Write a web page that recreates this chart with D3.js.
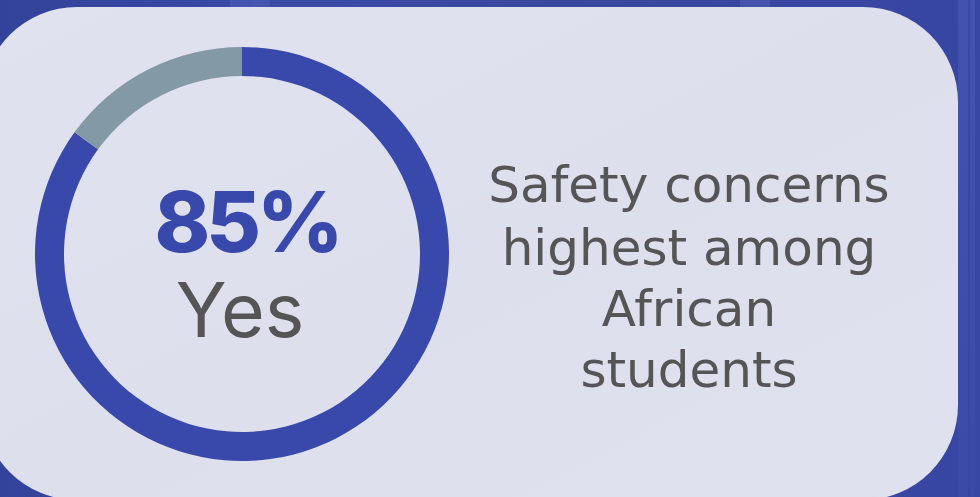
<!DOCTYPE html>
<html>
<head>
<meta charset="utf-8">
<script src="https://cdn.jsdelivr.net/npm/d3@7"></script>
<style>
  html, body { margin: 0; padding: 0; background: #36449c; }
  svg { display: block; }
</style>
</head>
<body>
<svg id="chart" width="980" height="497"></svg>
<script>
// Survey answer shares (percent)
const answers = ["Yes", "No"];
const shares = [85, 15];
const answerColors = ["#3949ab", "#8499a6"];
const captionLines = ["Safety concerns", "highest among", "African", "students"];

const W = 980, H = 497;
const svg = d3.select("#chart");

// Backdrop: deep blue with soft lighter streaks
const defs = svg.append("defs");
const bg = defs.append("linearGradient").attr("id", "bgGrad")
  .attr("x1", "0%").attr("x2", "100%").attr("y1", "0%").attr("y2", "0%");
bg.append("stop").attr("offset", "0%").attr("stop-color", "#33429a");
bg.append("stop").attr("offset", "30%").attr("stop-color", "#3a4aa6");
bg.append("stop").attr("offset", "60%").attr("stop-color", "#3b479e");
bg.append("stop").attr("offset", "100%").attr("stop-color", "#3846a4");
svg.append("rect").attr("width", W).attr("height", H).attr("fill", "url(#bgGrad)");

const streaks = defs.append("linearGradient").attr("id", "streak")
  .attr("x1", "0%").attr("x2", "0%").attr("y1", "0%").attr("y2", "100%");
streaks.append("stop").attr("offset", "0%").attr("stop-color", "#5b6ac4").attr("stop-opacity", 0.35);
streaks.append("stop").attr("offset", "100%").attr("stop-color", "#5b6ac4").attr("stop-opacity", 0.1);
[[958, 10], [970, 5], [230, 40], [740, 30]].forEach(([x, w]) => {
  svg.append("rect").attr("x", x).attr("y", 0).attr("width", w).attr("height", H)
    .attr("fill", "url(#streak)");
});

// Card
const cardGrad = defs.append("linearGradient").attr("id", "cardGrad")
  .attr("x1", "0%").attr("x2", "100%").attr("y1", "0%").attr("y2", "100%");
cardGrad.append("stop").attr("offset", "0%").attr("stop-color", "#e1e2f0");
cardGrad.append("stop").attr("offset", "50%").attr("stop-color", "#dedfed");
cardGrad.append("stop").attr("offset", "100%").attr("stop-color", "#e0e1ef");
svg.append("rect")
  .attr("x", -18).attr("y", 7).attr("width", 976).attr("height", 493)
  .attr("rx", 95).attr("ry", 95)
  .attr("fill", "url(#cardGrad)");

// Donut ring
const cx = 242, cy = 254, outerR = 207, innerR = 178;
const data = answers.map((a, i) => ({ answer: a, value: shares[i], color: answerColors[i] }));
const pie = d3.pie().value(d => d.value).sort(null);
const arc = d3.arc().innerRadius(innerR).outerRadius(outerR);

const ring = svg.append("g").attr("transform", `translate(${cx},${cy})`);
ring.selectAll("path")
  .data(pie(data))
  .join("path")
  .attr("d", arc)
  .attr("fill", d => d.data.color);

// Center labels
ring.append("text")
  .attr("x", 5).attr("y", -2)
  .attr("text-anchor", "middle")
  .attr("font-family", "Inter, 'Open Sans', sans-serif")
  .attr("font-weight", 800)
  .attr("font-size", 84)
  .attr("letter-spacing", -4)
  .attr("fill", answerColors[0])
  .text(d3.format("d")(shares[0]) + "%");

ring.append("text")
  .attr("x", -2).attr("y", 83)
  .attr("text-anchor", "middle")
  .attr("font-family", "Inter, 'Open Sans', sans-serif")
  .attr("font-weight", 400)
  .attr("font-size", 75)
  .attr("fill", "#555555")
  .text(answers[0]);

// Caption on the right
const caption = svg.append("text")
  .attr("text-anchor", "middle")
  .attr("font-family", "'DejaVu Sans', 'Open Sans', sans-serif")
  .attr("font-weight", 400)
  .attr("font-size", 50)
  .attr("fill", "#555555");
const baselines = [202, 265, 326, 387];
caption.selectAll("tspan")
  .data(captionLines)
  .join("tspan")
  .attr("x", 689)
  .attr("y", (d, i) => baselines[i])
  .text(d => d);
</script>
</body>
</html>
